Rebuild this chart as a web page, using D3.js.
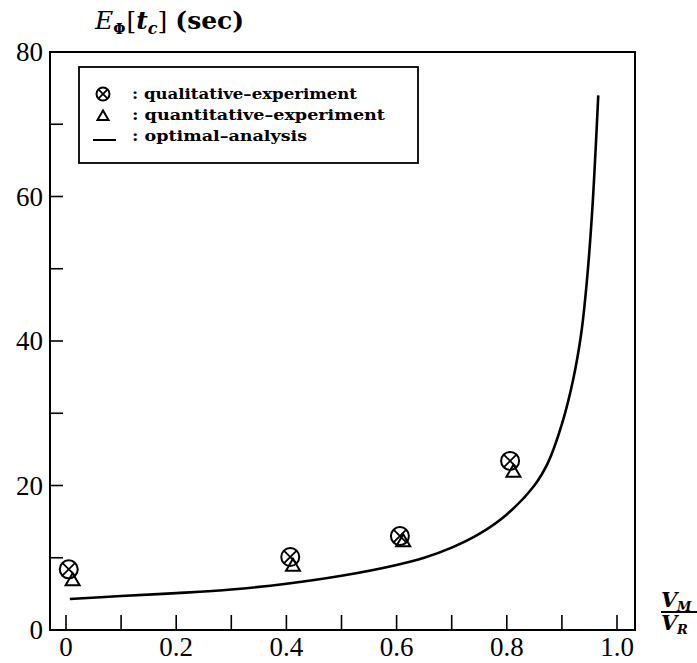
<!DOCTYPE html>
<html>
<head>
<meta charset="utf-8">
<script src="https://cdn.jsdelivr.net/npm/d3@7"></script>
<style>
    body { margin: 0; background: #fff; }
    svg { display: block; }
    .serif { font-family: "Liberation Serif", "Times New Roman", Times, serif; }
    .dserif { font-family: "DejaVu Serif", serif; }
</style>
</head>
<body>
<div id="chart"></div>
<script>
    var WIDTH = 697, HEIGHT = 663;

    // data
    var qualX = [0.005, 0.407, 0.606, 0.806];
    var qualY = [8.4, 10.1, 13.0, 23.4];
    var quanX = [0.012, 0.412, 0.612, 0.812];
    var quanY = [6.9, 8.9, 12.3, 21.9];
    var optX = [0.007, 0.1, 0.2, 0.3, 0.4, 0.5, 0.6, 0.65, 0.7, 0.75, 0.8, 0.85, 0.875, 0.9, 0.92, 0.935, 0.945, 0.955, 0.966];
    var optY = [4.3, 4.7, 5.1, 5.6, 6.4, 7.5, 9.0, 10.0, 11.4, 13.3, 16.0, 20.0, 23.2, 28.5, 34.5, 41, 48, 58, 74];
    var xTickLabels = [0, 0.2, 0.4, 0.6, 0.8, 1.0];
    var yTickLabels = [0, 20, 40, 60, 80];
    var legendLabels = [": qualitative\u2013experiment", ": quantitative\u2013experiment", ": optimal\u2013analysis"];

    var x = d3.scaleLinear().domain([0, 1]).range([66, 617]);
    var y = d3.scaleLinear().domain([0, 80]).range([630, 52]);

    var svg = d3.select("#chart").append("svg")
        .attr("width", WIDTH)
        .attr("height", HEIGHT);

    // frame
    svg.append("rect")
        .attr("x", 50).attr("y", 52)
        .attr("width", 585).attr("height", 578)
        .attr("fill", "none")
        .attr("stroke", "#000")
        .attr("stroke-width", 2);

    // x ticks (point up from the bottom)
    svg.append("g").selectAll("line")
        .data(d3.range(0, 11).map(function (i) { return i / 10; }))
        .enter().append("line")
        .attr("x1", function (d) { return x(d); })
        .attr("x2", function (d) { return x(d); })
        .attr("y1", 630).attr("y2", 615)
        .attr("stroke", "#000").attr("stroke-width", 1.6);

    // y ticks (point right from the left edge)
    svg.append("g").selectAll("line")
        .data(d3.range(1, 8).map(function (i) { return i * 10; }))
        .enter().append("line")
        .attr("x1", 50).attr("x2", 63)
        .attr("y1", function (d) { return y(d); })
        .attr("y2", function (d) { return y(d); })
        .attr("stroke", "#000").attr("stroke-width", 1.6);

    svg.append("g").selectAll("text")
        .data(xTickLabels)
        .enter().append("text")
        .attr("class", "serif")
        .attr("x", function (d) { return x(d); })
        .attr("y", 656)
        .attr("text-anchor", "middle")
        .style("font-size", "27px")
        .text(function (d) { return d === 0 ? "0" : d.toFixed(1); });

    svg.append("g").selectAll("text")
        .data(yTickLabels)
        .enter().append("text")
        .attr("class", "serif")
        .attr("x", 43)
        .attr("y", function (d) { return y(d) + 9; })
        .attr("text-anchor", "end")
        .style("font-size", "27px")
        .text(function (d) { return d; });

    // y axis title
    var title = svg.append("text")
        .attr("class", "dserif")
        .attr("x", 95).attr("y", 29)
        .style("font-size", "25px");
    title.append("tspan").style("font-style", "italic").text("E");
    title.append("tspan").attr("dy", 5).style("font-size", "14px").style("font-weight", "bold").text("\u03A6");
    title.append("tspan").attr("dy", -5).attr("dx", 1).text("[");
    title.append("tspan").style("font-style", "italic").style("font-weight", "bold").text("t");
    title.append("tspan").attr("dy", 5).style("font-size", "16px").style("font-style", "italic").style("font-weight", "bold").text("c");
    title.append("tspan").attr("dy", -5).text("]");
    title.append("tspan").attr("dx", 8).style("font-weight", "bold").text("(sec)");

    // x axis label as a fraction
    var frac = svg.append("g")
        .attr("class", "dserif")
        .style("font-style", "italic")
        .style("font-weight", "bold");
    frac.append("text").attr("x", 661).attr("y", 607).style("font-size", "21px").text("V");
    frac.append("text").attr("x", 677).attr("y", 611).style("font-size", "13px").text("M");
    frac.append("line").attr("x1", 661).attr("x2", 697).attr("y1", 612).attr("y2", 612)
        .attr("stroke", "#000").attr("stroke-width", 1.8);
    frac.append("text").attr("x", 661).attr("y", 630).style("font-size", "21px").text("V");
    frac.append("text").attr("x", 677).attr("y", 634).style("font-size", "13px").text("R");

    // optimal-analysis curve
    var line = d3.line()
        .x(function (d) { return x(d[0]); })
        .y(function (d) { return y(d[1]); })
        .curve(d3.curveCatmullRom.alpha(0.5));

    svg.append("path")
        .datum(d3.zip(optX, optY))
        .attr("d", line)
        .attr("fill", "none")
        .attr("stroke", "#000")
        .attr("stroke-width", 2.6);

    function triangle(g, cx, cy, s) {
        g.append("path")
            .attr("d", "M" + cx + "," + (cy - s) + "L" + (cx + s) + "," + (cy + s * 0.72) + "L" + (cx - s) + "," + (cy + s * 0.72) + "Z")
            .attr("fill", "none")
            .attr("stroke", "#000")
            .attr("stroke-width", 2);
    }

    function otimes(g, cx, cy, r) {
        var k = r / Math.SQRT2;
        g.append("circle").attr("cx", cx).attr("cy", cy).attr("r", r)
            .attr("fill", "none").attr("stroke", "#000").attr("stroke-width", 2);
        g.append("path")
            .attr("d", "M" + (cx - k) + "," + (cy - k) + "L" + (cx + k) + "," + (cy + k) +
                "M" + (cx + k) + "," + (cy - k) + "L" + (cx - k) + "," + (cy + k))
            .attr("stroke", "#000").attr("stroke-width", 1.8);
    }

    var marks = svg.append("g");
    d3.zip(quanX, quanY).forEach(function (d) { triangle(marks, x(d[0]), y(d[1]), 7); });
    d3.zip(qualX, qualY).forEach(function (d) { otimes(marks, x(d[0]), y(d[1]), 9); });

    // legend
    var legend = svg.append("g");
    legend.append("rect")
        .attr("x", 79).attr("y", 67)
        .attr("width", 339).attr("height", 96)
        .attr("fill", "#fff")
        .attr("stroke", "#000")
        .attr("stroke-width", 1.8);
    otimes(legend, 103, 94, 6.5);
    triangle(legend, 103, 116, 5.5);
    legend.append("line").attr("x1", 93).attr("x2", 116).attr("y1", 140).attr("y2", 140)
        .attr("stroke", "#000").attr("stroke-width", 2);
    var legendWidths = [225, 253, 175];
    legend.selectAll("text.lab")
        .data(legendLabels)
        .enter().append("text")
        .attr("class", "lab dserif")
        .attr("x", 132)
        .attr("y", function (d, i) { return 99 + i * 21; })
        .attr("textLength", function (d, i) { return legendWidths[i]; })
        .attr("lengthAdjust", "spacingAndGlyphs")
        .style("font-weight", "bold")
        .style("font-size", "15px")
        .text(function (d) { return d; });
</script>
</body>
</html>
